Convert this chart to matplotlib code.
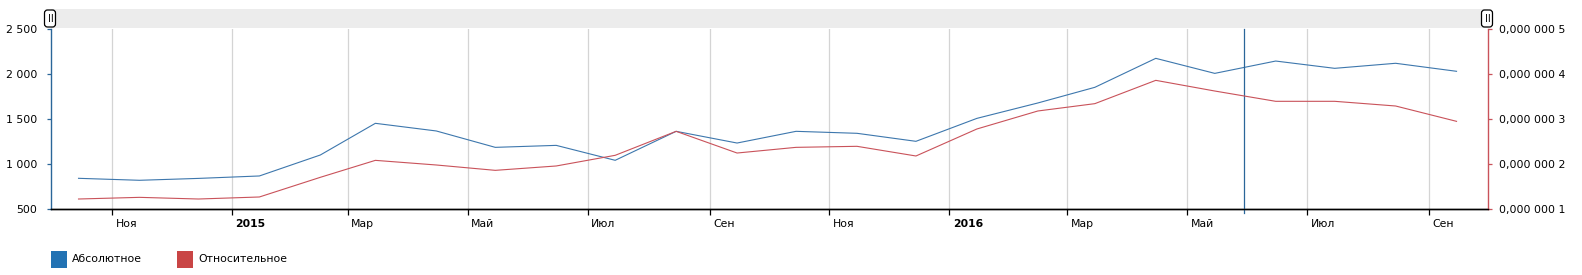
import matplotlib
matplotlib.use("Agg")
import matplotlib.pyplot as plt
import matplotlib.dates as mdates
import matplotlib.transforms as mtrans
from matplotlib.patches import Rectangle, FancyBboxPatch
import pandas as pd

# ---- data ----
months = pd.date_range("2014-10-01", periods=24, freq="MS") + pd.Timedelta(days=14)
absolute = [841, 819, 840, 867, 1100, 1452, 1367, 1185, 1207, 1041, 1363, 1233,
            1363, 1341, 1252, 1507, 1678, 1852, 2174, 2007, 2144, 2063, 2119, 2030]
relative = [1.222e-7, 1.259e-7, 1.222e-7, 1.267e-7, 1.704e-7, 2.081e-7, 1.978e-7, 1.859e-7,
            1.956e-7, 2.193e-7, 2.726e-7, 2.244e-7, 2.370e-7, 2.393e-7, 2.178e-7, 2.778e-7,
            3.178e-7, 3.341e-7, 3.859e-7, 3.622e-7, 3.393e-7, 3.393e-7, 3.289e-7, 2.948e-7]
tick_dates = ["2014-11-01", "2015-01-01", "2015-03-01", "2015-05-01", "2015-07-01", "2015-09-01",
              "2015-11-01", "2016-01-01", "2016-03-01", "2016-05-01", "2016-07-01", "2016-09-01"]
tick_labels = ["Ноя", "2015", "Мар", "Май", "Июл", "Сен", "Ноя", "2016", "Мар", "Май", "Июл", "Сен"]
left_ticks = [500, 1000, 1500, 2000, 2500]
right_ticks = [1e-7, 2e-7, 3e-7, 4e-7, 5e-7]
series_names = ["Абсолютное", "Относительное"]
cursor_date = "2016-05-30"
x_range = ("2014-10-01", "2016-10-01")

BLUE_LINE = "#3d77ad"
RED_LINE = "#c9525a"
BLUE_LEG = "#2272b3"
RED_LEG = "#c94545"
FS = 7.8

plt.rcParams["font.family"] = ["DejaVu Sans"]
W, H = 1582, 275
fig = plt.figure(figsize=(W / 100, H / 100), dpi=100)

L, R, T, B = 51, 1488, 29, 209
ax = fig.add_axes([L / W, 1 - B / H, (R - L) / W, (B - T) / H])
ax2 = ax.twinx()

xd = mdates.date2num(months.to_pydatetime())
ax.plot(xd, absolute, color=BLUE_LINE, lw=0.8, zorder=3)
ax2.plot(xd, relative, color=RED_LINE, lw=0.8, zorder=3)

ax.set_xlim(mdates.date2num(pd.Timestamp(x_range[0])), mdates.date2num(pd.Timestamp(x_range[1])))
ax.set_ylim(500, 2500)
ax2.set_ylim(1e-7, 5e-7)

tnum = [mdates.date2num(pd.Timestamp(d)) for d in tick_dates]
ax.set_xticks(tnum)
ax.set_xticklabels([])
for t in tnum:
    ax.axvline(t, color="#d4d4d4", lw=0.9, zorder=1)
for t, lab in zip(tnum, tick_labels):
    bold = lab.isdigit()
    ax.annotate(lab, xy=(t, 0), xycoords=ax.get_xaxis_transform(), xytext=(2.5, -11),
                textcoords="offset points", ha="left", va="center", fontsize=FS,
                fontweight="bold" if bold else "normal", color="#000000")

ax.tick_params(axis="x", length=4, width=0.9, color="#000000", direction="out")
ax.set_yticks(left_ticks)
ax.set_yticklabels([f"{v:,}".replace(",", " ") for v in left_ticks], fontsize=FS)
ax.tick_params(axis="y", length=3, width=0.9, color="#2a6699", pad=7)


def fmt_small(v):
    s = f"{v:.7f}"
    ip, fp = s.split(".")
    groups = [fp[i:i + 3] for i in range(0, len(fp), 3)]
    return ip + "," + " ".join(groups)


ax2.set_yticks(right_ticks)
ax2.set_yticklabels([fmt_small(v) for v in right_ticks], fontsize=FS)
ax2.tick_params(axis="y", length=3, width=0.9, color=RED_LINE, pad=5)

for a in (ax, ax2):
    a.spines["top"].set_visible(False)
    a.spines["bottom"].set_color("#000000")
    a.spines["bottom"].set_linewidth(1.0)
ax.spines["right"].set_visible(False)
ax.spines["left"].set_color("#2a6699")
ax.spines["left"].set_linewidth(1.0)
ax2.spines["left"].set_visible(False)
ax2.spines["right"].set_color(RED_LINE)
ax2.spines["right"].set_linewidth(1.0)

# cursor line
cx = mdates.date2num(pd.Timestamp(cursor_date))
trans = mtrans.blended_transform_factory(ax.transData, ax.transAxes)
ax.plot([cx, cx], [-0.022, 1.0], transform=trans, color="#2a6699", lw=0.9, clip_on=False, zorder=4)

# scrollbar
sb = fig.add_axes([L / W, 1 - 28 / H, (R - L) / W, 19 / H])
sb.set_facecolor("#ececec")
sb.set_xticks([])
sb.set_yticks([])
for s in sb.spines.values():
    s.set_visible(False)
for hx in (L - 1, R - 1):
    # pixel coordinates (origin bottom-left)
    fig.patches.append(FancyBboxPatch((hx - 5.5, H - 27), 11, 17,
                                      boxstyle="round,pad=0,rounding_size=3",
                                      transform=mtrans.IdentityTransform(),
                                      facecolor="white", edgecolor="#000000", lw=0.9, zorder=10))
    fig.text((hx + 0.5) / W, 1 - 18.5 / H, "II", ha="center", va="center", fontsize=7, zorder=11)

# legend
for i, (name, col) in enumerate(zip(series_names, [BLUE_LEG, RED_LEG])):
    x0 = (51 + 126 * i) / W
    fig.patches.append(Rectangle((x0, 1 - 268 / H), 16 / W, 17 / H, transform=fig.transFigure,
                                 facecolor=col, edgecolor="none"))
    fig.text(x0 + 21 / W, 1 - 259.5 / H, name, ha="left", va="center", fontsize=FS)

fig.savefig("out.png", dpi=100)
